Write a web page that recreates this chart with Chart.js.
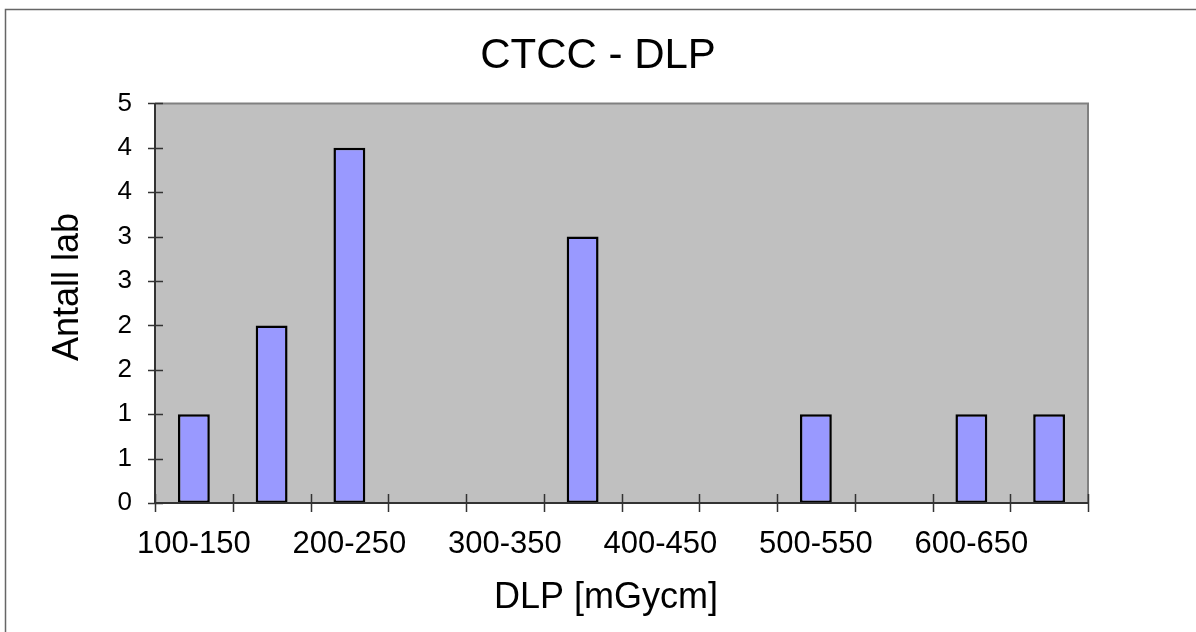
<!DOCTYPE html>
<html lang="no">

<head>
    <meta charset="UTF-8">
    <title>CTCC - DLP</title>
    <style>
        body {
            margin: 0;
            background: #fff;
        }

        .wrap {
            width: 1196px;
            height: 632px;
        }
    </style>
    <script src="https://cdn.jsdelivr.net/npm/chart.js"></script>
</head>

<body>
    <div class="wrap">
        <canvas id="dlpChart" width="1196" height="632"></canvas>
    </div>

    <script>
        // Intervaller (mGycm) og antall lab i hvert intervall
        const categories = ['100-150', '150-200', '200-250', '250-300', '300-350', '350-400',
            '400-450', '450-500', '500-550', '550-600', '600-650', '650-700'];
        const counts = [1, 2, 4, 0, 0, 3, 0, 0, 1, 0, 1, 1];

        // y-akse: 0 - 4,5 i steg på 0,5, vist som heltall
        const yMin = 0;
        const yMax = 4.5;
        const yStep = 0.5;

        const chartTitle = 'CTCC - DLP';
        const xTitle = 'DLP [mGycm]';
        const yTitle = 'Antall lab';

        const FONT = "'Liberation Sans', Arial, sans-serif";

        // Grå plotflate, rammer, tick-merker som krysser aksene og aksetitler
        const excelLook = {
            id: 'excelLook',
            beforeDraw(chart) {
                const { ctx, chartArea: a } = chart;
                ctx.save();
                ctx.fillStyle = '#c0c0c0';
                ctx.fillRect(a.left, a.top, a.right - a.left, a.bottom - a.top);
                ctx.restore();
            },
            afterDraw(chart) {
                const { ctx, chartArea: a } = chart;
                const xs = chart.scales.x;
                const ys = chart.scales.y;
                ctx.save();

                // ytre ramme (venstre og topp)
                ctx.strokeStyle = '#666';
                ctx.lineWidth = 1.5;
                ctx.beginPath();
                ctx.moveTo(5.5, 632);
                ctx.lineTo(5.5, 9.5);
                ctx.lineTo(1196, 9.5);
                ctx.stroke();

                // plotramme topp/høyre
                ctx.strokeStyle = '#808080';
                ctx.lineWidth = 2;
                ctx.beginPath();
                ctx.moveTo(a.left, a.top);
                ctx.lineTo(a.right, a.top);
                ctx.lineTo(a.right, a.bottom);
                ctx.stroke();

                // akser
                ctx.strokeStyle = '#333';
                ctx.lineWidth = 2;
                ctx.beginPath();
                ctx.moveTo(a.left, a.top);
                ctx.lineTo(a.left, a.bottom);
                ctx.lineTo(a.right, a.bottom);
                ctx.stroke();

                // tick-merker
                ctx.lineWidth = 1.5;
                ctx.beginPath();
                ys.ticks.forEach((t, i) => {
                    const py = Math.round(ys.getPixelForTick(i)) + 0.5;
                    ctx.moveTo(a.left - 7, py);
                    ctx.lineTo(a.left + 8, py);
                });
                const half = (xs.getPixelForTick(1) - xs.getPixelForTick(0)) / 2;
                for (let i = 0; i <= categories.length; i++) {
                    const px = Math.round(xs.getPixelForTick(Math.min(i, categories.length - 1)) + (i < categories.length ? -half : half)) + 0.5;
                    ctx.moveTo(px, a.bottom - 9);
                    ctx.lineTo(px, a.bottom + 9);
                }
                ctx.stroke();

                // aksetitler
                ctx.fillStyle = '#000';
                ctx.font = '36px ' + FONT;
                ctx.textAlign = 'center';
                ctx.textBaseline = 'alphabetic';
                ctx.fillText(xTitle, 606, 608);
                ctx.translate(78, 287);
                ctx.rotate(-Math.PI / 2);
                ctx.fillText(yTitle, 0, 0);
                ctx.restore();
            }
        };

        new Chart(document.getElementById('dlpChart'), {
            type: 'bar',
            data: {
                labels: categories,
                datasets: [{
                    data: counts,
                    backgroundColor: '#9999ff',
                    borderColor: '#000',
                    borderWidth: 2.5,
                    borderSkipped: false,
                    barPercentage: 0.41,
                    categoryPercentage: 1
                }]
            },
            options: {
                responsive: false,
                animation: false,
                layout: { padding: 0 },
                plugins: {
                    legend: { display: false },
                    tooltip: { enabled: false },
                    title: {
                        display: true,
                        text: chartTitle,
                        color: '#000',
                        font: { family: FONT, size: 42, weight: 'normal' },
                        padding: { top: 31, bottom: 22 }
                    }
                },
                scales: {
                    x: {
                        grid: { display: false, drawTicks: false },
                        border: { display: false },
                        ticks: {
                            autoSkip: false,
                            maxRotation: 0,
                            color: '#000',
                            padding: 23,
                            font: { family: FONT, size: 31 },
                            callback(val, i) {
                                return i % 2 === 0 ? this.getLabelForValue(val) : '';
                            }
                        },
                        afterFit(scale) { scale.height = 129; }
                    },
                    y: {
                        min: yMin,
                        max: yMax,
                        grid: { display: false, drawTicks: false },
                        border: { display: false },
                        ticks: {
                            stepSize: yStep,
                            color: '#000',
                            padding: 23,
                            font: { family: FONT, size: 26 },
                            callback: v => Math.round(v)
                        },
                        afterFit(scale) { scale.width = 155; }
                    },
                    // tom akse som holder plass til høyre for plotflaten
                    right: {
                        position: 'right',
                        display: true,
                        grid: { display: false, drawTicks: false },
                        border: { display: false },
                        ticks: { display: false },
                        afterFit(scale) { scale.width = 108; }
                    }
                }
            },
            plugins: [excelLook]
        });
    </script>
</body>

</html>
